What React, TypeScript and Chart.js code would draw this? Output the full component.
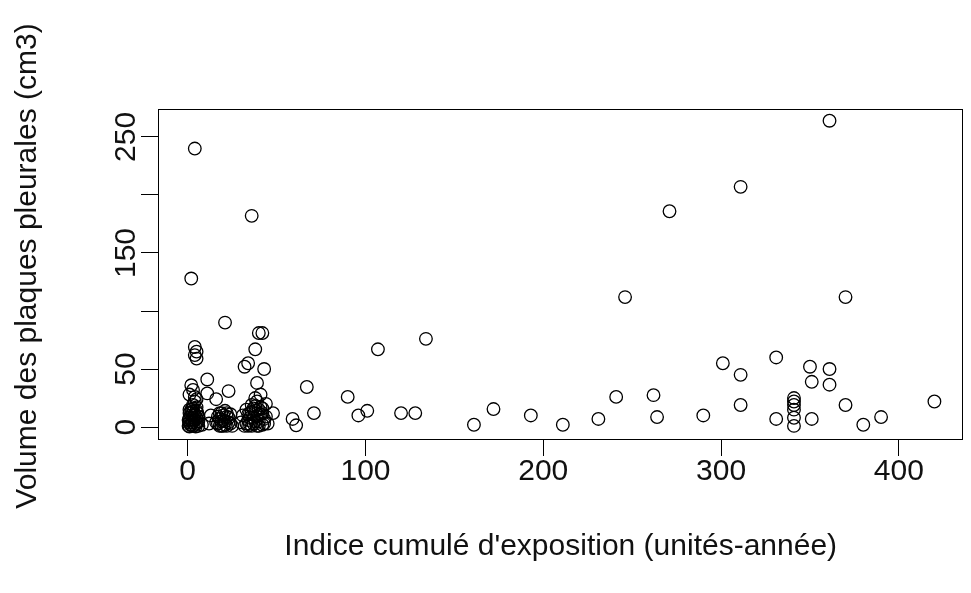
import React, { useEffect, useRef } from "react";
import { Chart, registerables } from "chart.js";

Chart.register(...registerables);

// Indice cumulé d'exposition (unités-année)
const exposure: number[] = [
  0.5, 1, 1, 1, 2, 2, 2, 2, 3, 3, 3, 3, 4, 4, 4, 5, 5, 5, 6, 6, 3,
  0.5, 1, 1.5, 2.5, 3.5, 4.5, 5.5, 6, 2, 1, 3, 5,
  1, 3, 2, 4, 4, 5, 2, 4, 4, 5, 4, 5, 11, 11, 16, 23, 21, 12, 13, 8,
  16, 17, 18, 19, 20, 21, 21, 22, 23, 24, 25, 19,
  17, 18, 19, 20, 21, 22, 23, 24, 20, 22, 18,
  30, 31, 32, 33, 34, 35, 35, 36, 37, 37, 38, 39, 39, 40, 40, 41, 42, 42, 43, 44, 45,
  33, 34, 35, 36, 36, 37, 38, 39, 40, 41, 42, 43, 44, 38, 40, 34,
  38, 39, 41, 43, 32, 34, 38, 40, 42, 36,
  48, 67, 71, 59, 61,
  90, 96, 101, 107, 120, 128, 134, 161, 172, 193, 211, 231, 241, 246,
  262, 264, 271, 290, 301, 311, 311, 311, 331, 331,
  341, 341, 341, 341, 341, 341, 350, 351, 351, 361, 361, 361, 370, 370, 380, 390, 420,
];

// Volume des plaques pleurales (cm3)
const volume: number[] = [
  1, 4, 8, 12, 2, 6, 10, 15, 1, 4, 8, 13, 2, 6, 11, 3, 8, 17, 1, 5, 19,
  6, 15, 2, 4, 10, 0.5, 12, 9, 13, 0.5, 16, 14,
  28, 32, 36, 26, 22, 24, 128, 240, 69, 65, 62, 59, 41, 29, 24, 31, 90, 3, 10, 2,
  4, 9, 1, 12, 6, 2, 14, 9, 4, 11, 1, 5,
  3, 7, 1, 10, 5, 1, 8, 3, 1, 12, 12,
  4, 10, 1, 15, 6, 12, 2, 19, 8, 3, 14, 1, 22, 10, 5, 17, 2, 12, 7, 20, 3,
  3, 11, 8, 1, 13, 16, 5, 9, 1, 11, 16, 3, 9, 18, 15, 1,
  25, 38, 28, 50, 52, 55, 67, 81, 81, 182,
  12, 34.5, 12, 7, 1.5,
  26, 10, 14, 67, 12, 12, 76, 2, 15.5, 10, 2, 7, 26, 112,
  27.5, 8.6, 186, 10, 55, 45, 19, 207, 60, 7,
  25, 22, 19, 15, 8, 1, 52, 39, 7, 50, 36.5, 264, 19, 112, 2, 8.6, 22,
];

const xTicks: number[] = [0, 100, 200, 300, 400];
const yTicks: number[] = [0, 50, 100, 150, 200, 250];
const yTickLabels: string[] = ["0", "50", "", "150", "", "250"];

const xTitle = "Indice cumulé d'exposition (unités-année)";
const yTitle = "Volume des plaques pleurales (cm3)";

const FONT_SIZE = 30;
const FONT = `${FONT_SIZE}px "Liberation Sans", Arial, sans-serif`;

export default function App() {
  const ref = useRef<HTMLCanvasElement | null>(null);

  useEffect(() => {
    const canvas = ref.current;
    if (!canvas) return;

    const textPlugin = {
      id: "rText",
      afterDraw(chart: any) {
        const { ctx, chartArea: a, scales } = chart;
        ctx.save();
        ctx.strokeStyle = "#000";
        ctx.lineWidth = 1;
        ctx.strokeRect(
          Math.round(a.left) + 0.5,
          Math.round(a.top) + 0.5,
          Math.round(a.right - a.left) - 1,
          Math.round(a.bottom - a.top)
        );
        ctx.fillStyle = "#111";
        ctx.font = FONT;
        ctx.textAlign = "center";
        ctx.textBaseline = "middle";
        scales.x.ticks.forEach((t: any) => {
          ctx.fillText(String(t.value), scales.x.getPixelForValue(t.value), 472);
        });
        ctx.fillText(xTitle, (a.left + a.right) / 2, 547);
        scales.y.ticks.forEach((t: any) => {
          const label = yTickLabels[yTicks.indexOf(t.value)] ?? "";
          if (!label) return;
          ctx.save();
          ctx.translate(127, scales.y.getPixelForValue(t.value));
          ctx.rotate(-Math.PI / 2);
          ctx.fillText(label, 0, 0);
          ctx.restore();
        });
        ctx.save();
        ctx.translate(28, (a.top + a.bottom) / 2 - 8);
        ctx.rotate(-Math.PI / 2);
        ctx.fillText(yTitle, 0, 0);
        ctx.restore();
        ctx.restore();
      },
    };

    const points = exposure.map((x, i) => ({ x, y: volume[i] }));

    const chart = new Chart(canvas, {
      type: "scatter",
      data: {
        datasets: [
          {
            data: points,
            pointStyle: "circle",
            pointRadius: 6.3,
            pointHoverRadius: 6.3,
            borderWidth: 1.3,
            borderColor: "#000",
            backgroundColor: "rgba(0,0,0,0)",
          },
        ],
      },
      options: {
        responsive: false,
        animation: false,
        devicePixelRatio: 1,
        events: [],
        layout: { padding: { top: 109, right: 1, left: 0, bottom: 0 } },
        plugins: {
          legend: { display: false },
          tooltip: { enabled: false },
          title: { display: false },
        },
        scales: {
          x: {
            type: "linear",
            min: -16.7,
            max: 436.3,
            afterBuildTicks: (s: any) => {
              s.ticks = xTicks.map((value) => ({ value }));
            },
            afterFit: (s: any) => {
              s.height = 154;
            },
            ticks: { display: false },
            border: { display: false },
            grid: {
              display: true,
              drawOnChartArea: false,
              drawTicks: true,
              tickLength: 17,
              color: "#000",
              lineWidth: 1,
            },
          },
          y: {
            type: "linear",
            min: -10.3,
            max: 274.1,
            afterBuildTicks: (s: any) => {
              s.ticks = yTicks.map((value) => ({ value }));
            },
            afterFit: (s: any) => {
              s.width = 158;
            },
            ticks: { display: false },
            border: { display: false },
            grid: {
              display: true,
              drawOnChartArea: false,
              drawTicks: true,
              tickLength: 17,
              color: "#000",
              lineWidth: 1,
            },
          },
        },
      },
      plugins: [textPlugin],
    });

    return () => chart.destroy();
  }, []);

  return (
    <div
      style={{
        position: "fixed",
        left: 0,
        top: 0,
        width: 971,
        height: 593,
        background: "#fff",
      }}
    >
      <canvas ref={ref} width={971} height={593} style={{ display: "block" }} />
    </div>
  );
}
